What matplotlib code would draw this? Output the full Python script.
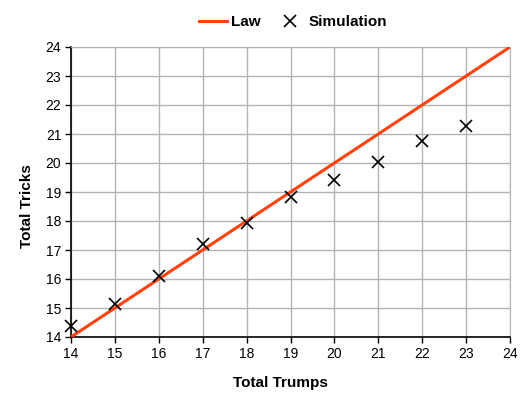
import numpy as np
import matplotlib
matplotlib.use('Agg')
import matplotlib.pyplot as plt

plt.rcParams['font.family'] = ['Liberation Sans', 'DejaVu Sans']

# law: tricks == trumps
law_x = [14, 24]
law_y = [14, 24]

# simulated results
sim_trumps = [14, 15, 16, 17, 18, 19, 20, 21, 22, 23]
sim_tricks = [14.38, 15.14, 16.10, 17.20, 17.93, 18.83, 19.41, 20.03, 20.76, 21.28]

fig = plt.figure(figsize=(5.27, 3.98), dpi=100)
ax = fig.add_axes([71 / 527, 1 - 337 / 398, (510 - 71) / 527, (337 - 47) / 398])

ax.plot(law_x, law_y, color='#ff420e', lw=2.2, label='Law', zorder=3)
ax.plot(sim_trumps, sim_tricks, 'x', color='black', ms=8, mew=1.2,
        label='Simulation', zorder=4, clip_on=False)

ax.set_xlim(14, 24)
ax.set_ylim(14, 24)
ax.set_xticks(np.arange(14, 25))
ax.set_yticks(np.arange(14, 25))
ax.grid(True, color='#b3b3b3', lw=1)
ax.set_axisbelow(True)

for s in ['top', 'right']:
    ax.spines[s].set_color('#b3b3b3')
for s in ['left', 'bottom']:
    ax.spines[s].set_color('black')
    ax.spines[s].set_linewidth(1.2)
ax.tick_params(direction='out', length=4, width=1, labelsize=10, pad=3)

ax.set_xlabel('Total Trumps', fontsize=11, fontweight='bold')
ax.set_ylabel('Total Tricks', fontsize=11, fontweight='bold')
ax.xaxis.set_label_coords(0.477, -0.135)
ax.yaxis.set_label_coords(-0.085, 0.452)

fig.legend(loc='upper center', bbox_to_anchor=(0.556, 0.997), ncol=2, frameon=False,
           prop={'weight': 'bold', 'size': 11}, handlelength=1.8,
           columnspacing=1.0, handletextpad=0.3)

fig.savefig('out.png', dpi=100)
